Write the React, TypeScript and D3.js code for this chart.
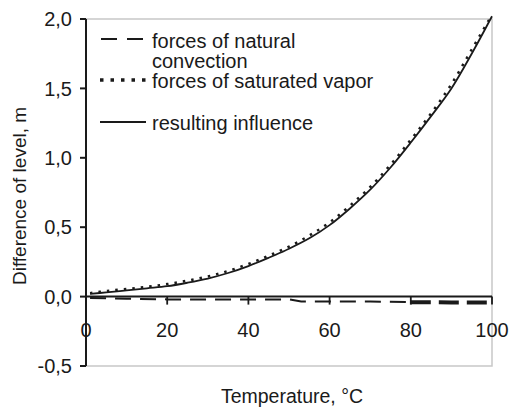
import React from "react";
import * as d3 from "d3";

const temps = [1, 5, 10, 15, 20, 25, 30, 35, 40, 45, 50, 55, 60, 65, 70, 75, 80, 85, 90, 95, 100];
const resulting = [0.02, 0.03, 0.045, 0.06, 0.075, 0.1, 0.13, 0.17, 0.22, 0.28, 0.345, 0.42, 0.515, 0.635, 0.77, 0.93, 1.11, 1.3, 1.5, 1.75, 2.02];
const vapor = [0.025, 0.04, 0.055, 0.07, 0.09, 0.115, 0.145, 0.185, 0.235, 0.295, 0.36, 0.44, 0.535, 0.655, 0.79, 0.95, 1.13, 1.32, 1.53, 1.78, 2.03];
const convTemps = [1, 10, 20, 30, 40, 50, 53, 60, 70, 80, 90, 100];
const convection = [-0.01, -0.015, -0.02, -0.02, -0.02, -0.02, -0.035, -0.035, -0.035, -0.04, -0.042, -0.042];

const xTicks = [0, 20, 40, 60, 80, 100];
const yTicks = [-0.5, 0, 0.5, 1, 1.5, 2];
const legendLabels = [["forces of natural", "convection"], ["forces of saturated vapor"], ["resulting influence"]];

const FONT = "'Liberation Sans', Arial, sans-serif";
const FS = 20;
const INK = "#1a1a1a";

export default function App() {
  const x = d3.scaleLinear().domain([0, 100]).range([86, 492]);
  const y = d3.scaleLinear().domain([-0.5, 2]).range([366, 19]);
  const line = d3.line<[number, number]>().x((d) => x(d[0])).y((d) => y(d[1])).curve(d3.curveCatmullRom);

  const resPts = temps.map((t, i) => [t, resulting[i]] as [number, number]);
  const vapPts = temps.map((t, i) => [t, vapor[i]] as [number, number]);
  const convPts = convTemps.map((t, i) => [t, convection[i]] as [number, number]);
  const convA = convPts.filter((d) => d[0] <= 80);
  const convB = convPts.filter((d) => d[0] >= 80);
  const fmt = (v: number) => (v === 0 ? "0,0" : d3.format(".1f")(v).replace(".", ",").replace("−", "-"));

  return (
    <svg width={512} height={408} style={{ position: "absolute", left: 0, top: 0, background: "#fff" }} fontFamily={FONT}>
      <rect x={0} y={0} width={512} height={408} fill="#fff" />
      <path d={`M${x(0)},${y(2)} H${x(100)} V${y(-0.5)} H${x(0)}`} fill="none" stroke="#c8c8c8" strokeWidth={1.5} />
      <path d={line(vapPts) || ""} fill="none" stroke={INK} strokeWidth={2.5} strokeDasharray="2.5,6" />
      <path d={line(resPts) || ""} fill="none" stroke={INK} strokeWidth={1.8} />
      <path d={d3.line<[number, number]>().x((d) => x(d[0])).y((d) => y(d[1]))(convA) || ""} fill="none" stroke={INK} strokeWidth={2} strokeDasharray="16,9" />
      <path d={d3.line<[number, number]>().x((d) => x(d[0])).y((d) => y(d[1]))(convB) || ""} fill="none" stroke={INK} strokeWidth={4} strokeDasharray="20,8" />
      <line x1={x(0)} x2={x(0)} y1={y(2)} y2={y(-0.5)} stroke={INK} strokeWidth={2} />
      <line x1={x(0)} x2={x(100)} y1={y(0)} y2={y(0)} stroke={INK} strokeWidth={2} />
      {yTicks.map((v) => (
        <g key={"y" + v}>
          <line x1={x(0) - 6} x2={x(0)} y1={y(v)} y2={y(v)} stroke={INK} strokeWidth={2} />
          <text x={72} y={y(v)} dy="0.36em" textAnchor="end" fontSize={FS} fill={INK}>
            {fmt(v)}
          </text>
        </g>
      ))}
      {xTicks.map((t) => (
        <g key={"x" + t}>
          <line x1={x(t)} x2={x(t)} y1={y(0)} y2={y(0) + 8} stroke={INK} strokeWidth={1.8} />
          <text x={x(t)} y={337} textAnchor="middle" fontSize={FS} fill={INK}>
            {t}
          </text>
        </g>
      ))}
      <text x={292} y={403} textAnchor="middle" fontSize={FS - 0.5} fill={INK}>
        Temperature, °C
      </text>
      <text transform={`translate(26,${196}) rotate(-90)`} textAnchor="middle" fontSize={FS - 1} fill={INK}>
        Difference of level, m
      </text>
      <line x1={101} x2={145} y1={39} y2={39} stroke={INK} strokeWidth={2} strokeDasharray="16,10" />
      <line x1={100} x2={146} y1={80} y2={80} stroke={INK} strokeWidth={3.5} strokeDasharray="3.5,7" />
      <line x1={100} x2={146} y1={122} y2={122} stroke={INK} strokeWidth={1.8} />
      <text x={152} y={48} fontSize={FS} fill={INK}>{legendLabels[0][0]}</text>
      <text x={152} y={68} fontSize={FS} fill={INK}>{legendLabels[0][1]}</text>
      <text x={152} y={88} fontSize={FS} fill={INK}>{legendLabels[1][0]}</text>
      <text x={152} y={130} fontSize={FS} fill={INK}>{legendLabels[2][0]}</text>
    </svg>
  );
}
